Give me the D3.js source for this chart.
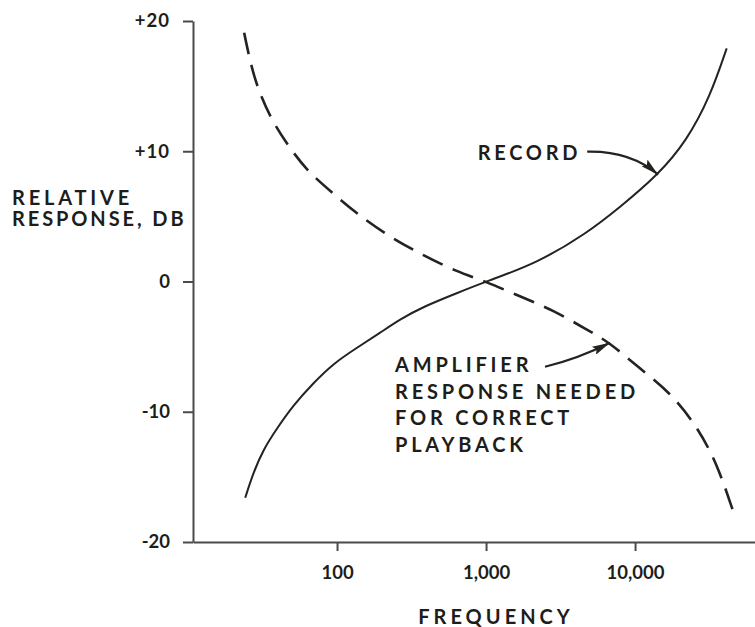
<!DOCTYPE html>
<html>
<head>
<meta charset="utf-8">
<script src="https://cdn.jsdelivr.net/npm/d3@7"></script>
<style>
  html, body { margin: 0; padding: 0; background: #fff; }
  svg { display: block; }
  text { font-family: Lato, "Liberation Sans", sans-serif; fill: #1d1d1a; }
</style>
</head>
<body>
<script>
// Recording characteristic (solid) and the playback equalisation it needs (dashed)
const recordFreq = [24.2, 27.4, 32, 39.4, 50.9, 69.3, 94.4, 135.5, 194, 265, 380, 635, 1000, 2190, 4740, 7900, 14300, 22200, 31900, 41200];
const recordDb   = [-16.6, -14.7, -12.9, -11.3, -9.5, -7.8, -6.3, -5.1, -3.95, -2.9, -1.93, -0.9, 0, 1.4, 3.7, 5.7, 8.2, 10.8, 14.2, 17.9];

const playbackFreq = [23.8, 25, 28.2, 35.5, 45.9, 62.6, 94.4, 135.5, 227, 380, 635, 1000, 1690, 2830, 4740, 6790, 10260, 17200, 25900, 35300, 45700];
const playbackDb   = [19.1, 17.9, 15.3, 12.6, 10.6, 8.5, 6.75, 5.2, 3.4, 2.0, 0.75, 0, -1.15, -2.2, -3.7, -4.7, -6.5, -8.5, -11.1, -13.9, -17.7];

const yTickValues = [-20, -10, 0, 10, 20];
const yTickLabels = ["-20", "-10", "0", "+10", "+20"];
const xTickValues = [100, 1000, 10000];
const xTickLabels = ["100", "1,000", "10,000"];

const W = 755, H = 627;
const margin = { top: 21, right: 0, bottom: 85, left: 193 };

const svg = d3.select("body").append("svg").attr("width", W).attr("height", H);

const x = d3.scaleLog().domain([10.8, 63800]).range([margin.left, W - margin.right]);
const y = d3.scaleLinear().domain([-20, 20]).range([H - margin.bottom, margin.top]);

const axisColor = "#4a4a46";
const inkColor = "#23231f";

// Axes
const xAxis = d3.axisBottom(x)
  .tickValues(xTickValues)
  .tickFormat((d, i) => xTickLabels[i])
  .tickSize(9).tickSizeOuter(0).tickPadding(15);
const yAxis = d3.axisLeft(y)
  .tickValues(yTickValues)
  .tickFormat((d, i) => yTickLabels[i])
  .tickSize(10).tickSizeOuter(0).tickPadding(13);

const gx = svg.append("g").attr("transform", `translate(0,${y(-20)})`).call(xAxis);
const gy = svg.append("g").attr("transform", `translate(${x.range()[0]},0)`).call(yAxis);

[gx, gy].forEach(g => {
  g.select(".domain").attr("stroke", axisColor).attr("stroke-width", 2);
  g.selectAll(".tick line").attr("stroke", axisColor).attr("stroke-width", 2);
  g.selectAll(".tick text")
    .attr("fill", "#1d1d1a")
    .style("font-family", "Lato, 'Liberation Sans', sans-serif")
    .style("font-weight", "700")
    .style("font-size", "18.5px");
});
// the plus signs on the upper ticks are set a little wider
gy.selectAll(".tick text").style("letter-spacing", (d) => d > 0 ? "1px" : "0px");

// Curves, smoothed through the read-off points
const line = d3.line()
  .x(d => x(d[0]))
  .y(d => y(d[1]))
  .curve(d3.curveBasis);

const recordPts = recordFreq.map((f, i) => [f, recordDb[i]]);
const playbackPts = playbackFreq.map((f, i) => [f, playbackDb[i]]);

svg.append("path")
  .datum(recordPts)
  .attr("d", line)
  .attr("fill", "none")
  .attr("stroke", inkColor)
  .attr("stroke-width", 2);

svg.append("path")
  .datum(playbackPts)
  .attr("d", line)
  .attr("fill", "none")
  .attr("stroke", inkColor)
  .attr("stroke-width", 2.6)
  .attr("stroke-dasharray", "22,11");

// Arrowhead for the callouts
svg.append("defs").append("marker")
  .attr("id", "arrowhead")
  .attr("viewBox", "0 0 18 9")
  .attr("refX", 18).attr("refY", 4.5)
  .attr("markerWidth", 18).attr("markerHeight", 9)
  .attr("markerUnits", "userSpaceOnUse")
  .attr("orient", "auto")
  .append("path")
  .attr("d", "M0,0 L18,4.5 L0,9 L3,4.5 Z")
  .attr("fill", inkColor);

function callout(tip, dx, dy, bend) {
  const tx = tip[0] + dx, ty = tip[1] + dy;
  svg.append("path")
    .attr("d", `M${tx},${ty} Q${bend[0]},${bend[1]} ${tip[0]},${tip[1]}`)
    .attr("fill", "none")
    .attr("stroke", inkColor)
    .attr("stroke-width", 2.2)
    .attr("marker-end", "url(#arrowhead)");
  return [tx, ty];
}

const labelFont = "20px";

// RECORD callout, pointing at the solid curve
const recTip = [x(recordFreq[16]), y(recordDb[16])];
const recTail = callout(recTip, -71, -23, [recTip[0] - 28, recTip[1] - 24]);
svg.append("text")
  .attr("x", recTail[0] - 6).attr("y", recTail[1] + 8)
  .attr("text-anchor", "end")
  .style("font-size", labelFont).style("font-weight", "700")
  .style("letter-spacing", "3.7px")
  .text("RECORD");

// Playback callout, pointing at the dashed curve
const pbTip = [x(playbackFreq[15]), y(playbackDb[15])];
const pbTail = callout(pbTip, -65, 24, [pbTip[0] - 32, pbTip[1] + 16]);
const noteLines = ["AMPLIFIER", "RESPONSE NEEDED", "FOR CORRECT", "PLAYBACK"];
svg.append("text")
  .attr("x", 395).attr("y", 372)
  .style("font-size", labelFont).style("font-weight", "700")
  .style("letter-spacing", "3.8px")
  .selectAll("tspan")
  .data(noteLines)
  .join("tspan")
  .attr("x", 395)
  .attr("dy", (d, i) => i === 0 ? 0 : 26.7)
  .text(d => d);

// Axis titles
svg.append("text")
  .attr("x", 12).attr("y", 205)
  .style("font-size", labelFont).style("font-weight", "700")
  .selectAll("tspan")
  .data([["RELATIVE", "3.8px"], ["RESPONSE, DB", "2.9px"]])
  .join("tspan")
  .attr("x", 12)
  .attr("dy", (d, i) => i === 0 ? 0 : 21)
  .style("letter-spacing", d => d[1])
  .text(d => d[0]);

svg.append("text")
  .attr("x", 496).attr("y", 624)
  .attr("text-anchor", "middle")
  .style("font-size", labelFont).style("font-weight", "700")
  .style("letter-spacing", "4px")
  .text("FREQUENCY");
</script>
</body>
</html>
